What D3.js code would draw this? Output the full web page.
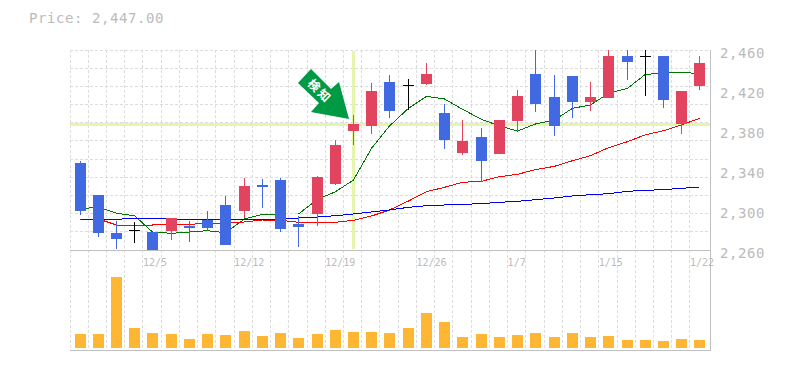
<!DOCTYPE html>
<html>
<head>
<meta charset="utf-8">
<style>
    html, body { margin: 0; padding: 0; background: #fff; }
    svg { display: block; }
    text { font-family: "DejaVu Sans Mono", monospace; fill: #bbb; }
</style>
<script src="https://cdn.jsdelivr.net/npm/d3@7"></script>
</head>
<body>
<div id="chart"></div>
<script>
/** DATA */
const titleText = "Price: 2,447.00";
const opens  = [2347,2315,2277,2280,2278,2279,2284,2290,2305,2299,2325,2330,2286,2296,2326,2379,2384,2428,2425,2426,2397,2357,2373,2356,2389,2436,2413,2434,2408,2412,2454,2454,2454,2386,2424];
const closes = [2299,2277,2271,2280,2260,2292,2282,2282,2265,2324,2323,2281,2283,2333,2365,2386,2419,2399,2425,2436,2370,2369,2349,2390,2414,2406,2384,2408,2413,2454,2448,2454,2410,2419,2447];
const highs  = [2349,2315,2289,2288,2278,2292,2289,2299,2314,2332,2331,2332,2294,2334,2370,2395,2427,2435,2431,2447,2406,2390,2382,2390,2420,2460,2435,2434,2428,2460,2460,2460,2454,2419,2454];
const lows   = [2295,2273,2261,2267,2260,2270,2268,2279,2265,2292,2302,2278,2263,2284,2325,2365,2376,2392,2400,2425,2361,2355,2328,2356,2379,2398,2374,2392,2399,2412,2430,2414,2402,2376,2420];
const volumes = [14,14,71,20,15,14,9,14,13,17,12,15,10,14,18,16,16,15,20,35,26,11,14,11,13,15,11,15,11,12,8,8,7,9,8];

// MOVING AVERAGES
const maShort = [2301,2303,2296.7,2294.3,2278,2276.7,2278,2279.3,2277.3,2291,2295.7,2296,2296,2310.7,2318.3,2330,2361.7,2384,2401.7,2413.7,2411,2400.7,2390.7,2384,2379,2386,2390,2401.7,2405,2416.7,2421.7,2435.7,2436.7,2437.7,2436.3];
const maMid   = [2290,2291,2285,2285,2285,2285.7,2285.7,2286.7,2286.7,2288,2290,2289.7,2287.7,2287.7,2287.7,2289.7,2294,2300,2309,2318.3,2322.7,2327.7,2328.7,2333.3,2335.7,2340.3,2343.7,2349.3,2354.3,2362.3,2368.3,2375.3,2379.3,2385,2391.7];
const maLong  = [2291,2290.7,2290.7,2291.7,2291.7,2290.7,2290.7,2290.7,2290.7,2290.7,2290.7,2290.7,2292,2293,2294.3,2296,2298,2300,2302.7,2304.3,2305,2305.7,2306.3,2307.7,2308.7,2310.3,2312,2314,2315.3,2316.3,2318.7,2319.7,2320.3,2321.7,2323];

// AXIS LABELS
const priceTicks = [2260,2300,2340,2380,2420,2460];
const dateTickIndex = [4,9,14,19,24,29,34];
const dateTickLabels = ["12/5","12/12","12/19","12/26","1/7","1/15","1/22"];

// SIGNAL
const signalIndex = 15;
const signalPrice = 2386;
const signalText = "検知";

/** SETUP */
const width = 785, height = 370;
const plotLeft = 70, plotRight = 710, plotTop = 50, plotMid = 250, plotBottom = 350;
const candleGap = 5, candleWidth = 11;
const gridDivisions = 11;

const colors = {
    up: "#e2435f", down: "#4169e1", flat: "#000",
    grid: "#ddd", axis: "#c0c0c0", highlight: "#e6f5ac",
    volume: "#ffb733", arrow: "#009944"
};

const svg = d3.select("#chart").append("svg")
    .attr("width", width)
    .attr("height", height);

const indices = d3.range(opens.length);
const x = d3.scaleBand().domain(indices).range([plotLeft, plotLeft + 18.234 * indices.length]);
const y = d3.scaleLinear().domain([2260, 2460]).range([plotMid, plotTop]);
const yVol = d3.scaleLinear().domain([0, 100]).range([348, 248]);

// pixel snapped positions, the original is drawn without anti-aliasing
const bandLeft = i => Math.floor(x(i));
const bandCenter = i => bandLeft(i) + candleGap + candleWidth / 2;

/** GRID */
const grid = svg.append("g")
    .attr("stroke", colors.grid)
    .attr("stroke-dasharray", "3,2")
    .attr("shape-rendering", "crispEdges");

grid.selectAll("line.v")
    .data(indices)
    .join("line")
    .attr("class", "v")
    .attr("x1", i => bandLeft(i) + 0.5)
    .attr("x2", i => bandLeft(i) + 0.5)
    .attr("y1", plotTop)
    .attr("y2", plotBottom);

grid.selectAll("line.h")
    .data(d3.range(gridDivisions))
    .join("line")
    .attr("class", "h")
    .attr("x1", plotLeft)
    .attr("x2", plotRight)
    .attr("y1", d => Math.floor(plotTop + d * (plotMid - plotTop) / gridDivisions) + 0.5)
    .attr("y2", d => Math.floor(plotTop + d * (plotMid - plotTop) / gridDivisions) + 0.5);

// FRAME
const frame = svg.append("g")
    .attr("stroke", colors.axis)
    .attr("shape-rendering", "crispEdges");
frame.append("line").attr("x1", plotLeft).attr("x2", plotRight + 1).attr("y1", plotMid + 0.5).attr("y2", plotMid + 0.5);
frame.append("line").attr("x1", plotLeft).attr("x2", plotRight + 1).attr("y1", plotBottom + 0.5).attr("y2", plotBottom + 0.5);
frame.append("line").attr("x1", plotRight + 0.5).attr("x2", plotRight + 0.5).attr("y1", plotTop).attr("y2", plotBottom);

/** HIGHLIGHT */
svg.append("rect")
    .attr("x", plotLeft)
    .attr("y", Math.round(y(signalPrice)) - 1)
    .attr("width", plotRight - plotLeft)
    .attr("height", 3)
    .attr("fill", colors.highlight);

svg.append("rect")
    .attr("x", Math.floor(bandCenter(signalIndex)) - 1)
    .attr("y", plotTop + 1)
    .attr("width", 3)
    .attr("height", plotMid - plotTop - 2)
    .attr("fill", colors.highlight);

/** MOVING AVERAGES */
const maLine = d3.line()
    .x((d, i) => bandCenter(i))
    .y(d => y(d));

const drawLine = (values, color) => {
    svg.append("path")
        .attr("d", maLine(values))
        .attr("fill", "none")
        .attr("stroke", color)
        .attr("stroke-width", 1)
        .attr("shape-rendering", "crispEdges");
};
drawLine(maShort, "#007700");
drawLine(maMid, "#ff0000");
drawLine(maLong, "#0000ee");

/** CANDLES */
const candleColor = i => {
    if (closes[i] > opens[i]) return colors.up;
    if (closes[i] < opens[i]) return colors.down;
    return colors.flat;
};

const candles = svg.append("g")
    .attr("shape-rendering", "crispEdges")
    .selectAll("g")
    .data(indices)
    .join("g");

candles.append("line")
    .attr("x1", i => Math.floor(bandCenter(i)) + 0.5)
    .attr("x2", i => Math.floor(bandCenter(i)) + 0.5)
    .attr("y1", i => y(highs[i]))
    .attr("y2", i => y(lows[i]))
    .attr("stroke", candleColor);

candles.append("rect")
    .attr("x", i => bandLeft(i) + candleGap)
    .attr("y", i => y(Math.max(opens[i], closes[i])))
    .attr("width", candleWidth)
    .attr("height", i => Math.max(1, Math.abs(y(opens[i]) - y(closes[i]))))
    .attr("fill", candleColor);

/** VOLUME */
svg.append("g")
    .attr("fill", colors.volume)
    .attr("shape-rendering", "crispEdges")
    .selectAll("rect")
    .data(indices)
    .join("rect")
    .attr("x", i => bandLeft(i) + candleGap)
    .attr("y", i => yVol(volumes[i]))
    .attr("width", candleWidth)
    .attr("height", i => yVol(0) - yVol(volumes[i]));

/** ARROW */
const tipX = bandCenter(signalIndex) - 4.5;
const tipY = y(signalPrice) - 5;
const arrowShape = [[-51,-36],[-38,-50],[-18,-30],[-10,-37],[0,0],[-38,-7],[-30,-16]];

const arrow = svg.append("g").attr("transform", `translate(${tipX},${tipY})`);
arrow.append("polygon")
    .attr("points", arrowShape.map(p => p.join(",")).join(" "))
    .attr("fill", colors.arrow);
arrow.append("text")
    .attr("transform", "translate(-29,-28) rotate(45)")
    .attr("text-anchor", "middle")
    .attr("dy", "0.38em")
    .style("font-family", '"Noto Sans CJK JP"')
    .style("font-size", "12px")
    .style("font-weight", "700")
    .style("letter-spacing", "2px")
    .style("fill", "#fff")
    .text(signalText);

/** AXES */
const yAxis = d3.axisRight(y)
    .tickValues(priceTicks)
    .tickFormat(d3.format(","))
    .tickSize(0)
    .tickPadding(0);

const yAxisG = svg.append("g")
    .attr("transform", "translate(720,0)")
    .call(yAxis);
yAxisG.select(".domain").remove();
yAxisG.selectAll("text")
    .attr("dy", 7.5)
    .style("font-family", '"DejaVu Sans Mono", monospace')
    .style("font-size", "14px")
    .style("letter-spacing", "0.57px")
    .style("fill", "#bbb");

const xAxis = d3.axisBottom(x)
    .tickValues(dateTickIndex)
    .tickFormat(d => dateTickLabels[dateTickIndex.indexOf(d)])
    .tickSize(0)
    .tickPadding(0);

const xAxisG = svg.append("g")
    .attr("transform", `translate(0,${plotMid})`)
    .call(xAxis);
xAxisG.select(".domain").remove();
xAxisG.selectAll("text")
    .attr("x", -x.bandwidth() / 2)
    .attr("y", 16)
    .attr("dy", 0)
    .attr("text-anchor", "start")
    .style("font-family", '"DejaVu Sans Mono", monospace')
    .style("font-size", "10px")
    .style("fill", "#bbb");

/** TITLE */
svg.append("text")
    .attr("x", 29)
    .attr("y", 23)
    .style("font-size", "14px")
    .style("letter-spacing", "0.57px")
    .text(titleText);
</script>
</body>
</html>
